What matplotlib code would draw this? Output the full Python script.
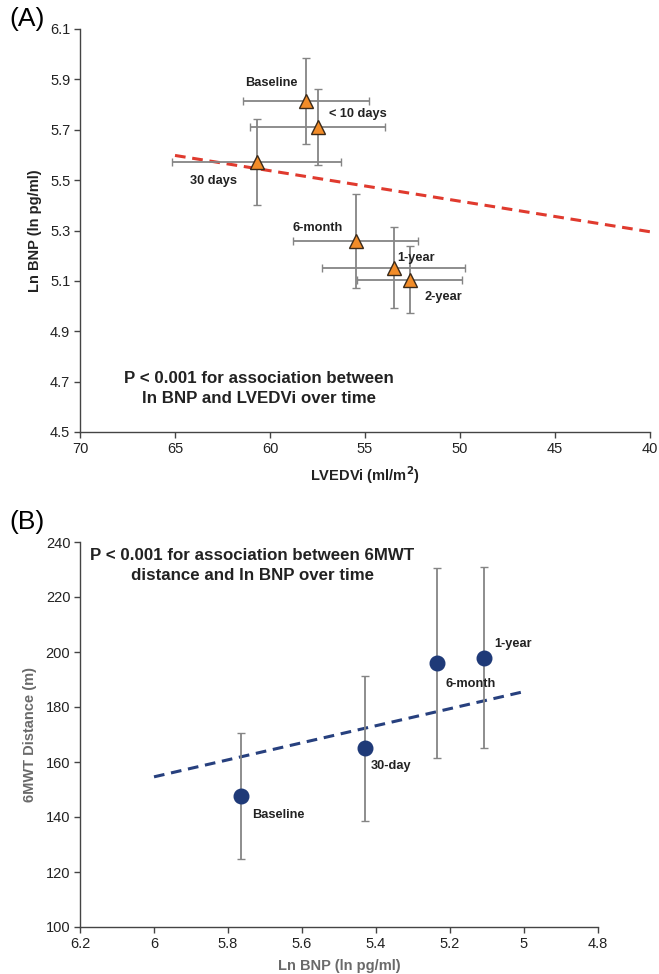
import numpy as np
import matplotlib
matplotlib.use('Agg')
from matplotlib import pyplot as plt
from matplotlib.ticker import FormatStrFormatter, FuncFormatter

plt.rcParams['font.family'] = ['Liberation Sans', 'DejaVu Sans']

## panel A: LVEDVi vs ln BNP
a_labels = ['Baseline', '< 10 days', '30 days', '6-month', '1-year', '2-year']
a_lvedvi = [58.1, 57.5, 60.7, 55.5, 53.5, 52.65]
a_lvedvi_err = [3.3, 3.55, 4.45, 3.3, 3.75, 2.75]
a_bnp = [5.815, 5.71, 5.572, 5.258, 5.153, 5.105]
a_bnp_err = [0.17, 0.15, 0.17, 0.185, 0.16, 0.132]
a_fit_x = [65, 40]
a_fit_y = [5.598, 5.295]
a_label_pos = [(59.95, 5.885), (55.4, 5.762), (63.0, 5.497), (57.5, 5.308), (52.3, 5.192), (50.9, 5.037)]

## panel B: ln BNP vs 6MWT distance
b_labels = ['Baseline', '30-day', '6-month', '1-year']
b_bnp = [5.764, 5.43, 5.234, 5.107]
b_dist = [147.8, 165.0, 196.0, 198.0]
b_dist_err = [22.9, 26.4, 34.5, 33.0]
b_fit_x = [6.0, 5.0]
b_fit_y = [154.6, 185.6]
b_label_pos = [(5.665, 140.6), (5.36, 158.4), (5.145, 188.4), (5.03, 203.0)]

fig = plt.figure(figsize=(6.59, 9.74), dpi=100)
axc = '#444444'


def style_axes(ax):
    for s in ['top', 'right']:
        ax.spines[s].set_visible(False)
    for s in ['left', 'bottom']:
        ax.spines[s].set_color(axc)
        ax.spines[s].set_linewidth(1.0)
    ax.tick_params(direction='out', length=4, width=1.0, color=axc,
                   labelsize=10.5, labelcolor='#222222', pad=3)


## ---- panel A
ax1 = fig.add_axes([80/659, 1-432/974, 570/659, 403/974])
style_axes(ax1)
ax1.plot(a_fit_x, a_fit_y, color='#e03a2e', lw=2.2, ls=(0, (3.5, 2.2)), zorder=2)
ax1.errorbar(a_lvedvi, a_bnp, xerr=a_lvedvi_err, yerr=a_bnp_err, fmt='none',
             ecolor='#858585', elinewidth=1.3, capsize=3, capthick=1.0, zorder=3)
ax1.plot(a_lvedvi, a_bnp, ls='none', marker='^', ms=10, mfc='#f28c28',
         mec='#3a2a1a', mew=1.0, zorder=4)
for lab, (tx, ty) in zip(a_labels, a_label_pos):
    ax1.text(tx, ty, lab, ha='center', va='center', fontsize=9.2, fontweight='bold', color='#222222')
ax1.text(60.6, 4.672, 'P < 0.001 for association between\nln BNP and LVEDVi over time',
         ha='center', va='center', fontsize=12.2, fontweight='bold', color='#222222',
         linespacing=1.4)
ax1.set_xlim(70, 40)
ax1.set_ylim(4.5, 6.1)
ax1.set_xticks([70, 65, 60, 55, 50, 45, 40])
ax1.set_yticks(np.arange(4.5, 6.15, 0.2))
ax1.yaxis.set_major_formatter(FormatStrFormatter('%.1f'))
ax1.set_xlabel('LVEDVi (ml/m$^\\mathbf{2}$)', fontsize=10.5, fontweight='bold', color='#222222', labelpad=6)
ax1.set_ylabel('Ln BNP (ln pg/ml)', fontsize=10.5, fontweight='bold', color='#222222', labelpad=6)
fig.text(9/659, 1-19/974, '(A)', fontsize=19, ha='left', va='center')

## ---- panel B
ax2 = fig.add_axes([80/659, 1-927/974, 518/659, 385/974])
style_axes(ax2)
ax2.plot(b_fit_x, b_fit_y, color='#27407e', lw=2.2, ls=(0, (3.5, 2.2)), zorder=2)
ax2.errorbar(b_bnp, b_dist, yerr=b_dist_err, fmt='none',
             ecolor='#858585', elinewidth=1.3, capsize=3, capthick=1.0, zorder=3)
ax2.plot(b_bnp, b_dist, ls='none', marker='o', ms=10.5, mfc='#1f3a78',
         mec='#1f3a78', zorder=4)
for lab, (tx, ty) in zip(b_labels, b_label_pos):
    ax2.text(tx, ty, lab, ha='center', va='center', fontsize=9.2, fontweight='bold', color='#222222')
ax2.text(5.735, 231.4, 'P < 0.001 for association between 6MWT\ndistance and ln BNP over time',
         ha='center', va='center', fontsize=12.2, fontweight='bold', color='#222222',
         linespacing=1.45)
ax2.set_xlim(6.2, 4.8)
ax2.set_ylim(100, 240)
ax2.set_xticks([6.2, 6.0, 5.8, 5.6, 5.4, 5.2, 5.0, 4.8])
ax2.set_yticks(np.arange(100, 241, 20))
ax2.xaxis.set_major_formatter(FuncFormatter(lambda v, p: '%g' % round(v, 1)))
ax2.set_xlabel('Ln BNP (ln pg/ml)', fontsize=10.5, fontweight='bold', color='#6a6a6a', labelpad=6)
ax2.set_ylabel('6MWT Distance (m)', fontsize=10.5, fontweight='bold', color='#6a6a6a', labelpad=6)
fig.text(9/659, 1-522/974, '(B)', fontsize=19, ha='left', va='center')

fig.savefig('out.png', dpi=100)
